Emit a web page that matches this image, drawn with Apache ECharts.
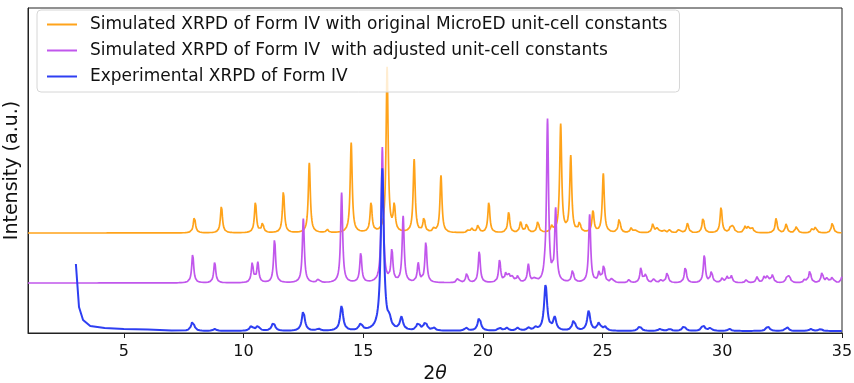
<!DOCTYPE html>
<html>
<head>
<meta charset="utf-8">
<script src="https://cdn.jsdelivr.net/npm/echarts@6/dist/echarts.min.js"></script>
<style>
  html, body { margin: 0; padding: 0; background: #fff; }
  #chart { width: 854px; height: 383px; }
</style>
</head>
<body>
<div id="chart"></div>
<script>
// XRPD patterns of Form IV, stacked (peak lists)
var seriesNames = [
  "Simulated XRPD of Form IV with original MicroED unit-cell constants",
  "Simulated XRPD of Form IV  with adjusted unit-cell constants",
  "Experimental XRPD of Form IV"
];
var tickValues = [5, 10, 15, 20, 25, 30, 35];

// orange: original MicroED cell
var orangePos = [7.95, 9.08, 10.5, 10.8, 11.67, 12.75, 13.5, 14.5, 15.33, 16.0, 16.3, 17.13, 17.54, 17.96, 18.25, 19.4, 19.55, 19.8, 20.25, 21.08, 21.58, 21.83, 22.3, 22.88, 23.25, 23.67, 24.04, 24.6, 25.03, 25.7, 26.2, 26.4, 27.1, 27.3, 27.55, 27.8, 28.2, 28.55, 29.2, 29.95, 30.35, 30.45, 30.95, 31.1, 31.25, 32.25, 32.67, 33.1, 33.75, 33.9, 34.6];
var orangeH = [17, 27, 31, 10, 42, 70, 3, 90, 30, 165, 26, 73, 15, 4, 57, 3, 4, 8, 31, 21, 11, 9, 12, 6, 108, 76, 10, 22, 59, 15, 5, 3, 9, 6, 3, 3, 4, 10, 16, 26, 6, 7, 6, 7, 5, 15, 9, 7, 4, 6, 11];

// purple: adjusted cell
var purplePos = [7.88, 8.8, 10.37, 10.6, 11.3, 12.5, 13.13, 14.1, 14.9, 15.8, 16.2, 16.67, 17.3, 17.62, 18.96, 19.33, 19.85, 20.7, 20.96, 21.1, 21.25, 21.46, 21.9, 22.17, 22.58, 22.7, 23.04, 23.75, 24.46, 24.85, 25.05, 25.4, 26.1, 26.6, 26.8, 27.15, 27.45, 27.7, 28.46, 29.25, 29.55, 30.0, 30.2, 30.38, 31.0, 31.45, 31.75, 31.9, 32.1, 32.7, 32.8, 33.45, 33.66, 34.17, 34.38, 34.6, 35.0];
var purpleH = [29, 21, 20, 20, 44, 64, 4, 90, 30, 135, 32, 66, 19, 41, 5, 10, 32, 23, 9, 7, 6, 7, 18, 5, 5, 162, 72, 13, 68, 10, 18, 5, 3, 15, 9, 4, 3, 11, 17, 28, 12, 5, 6, 7, 3, 6, 6, 8, 8, 6, 7, 4, 13, 11, 5, 7, 6];

// blue: experimental
var bluePos = [7.88, 8.8, 10.33, 10.6, 11.25, 12.5, 13.13, 14.1, 14.9, 15.8, 16.1, 16.6, 17.3, 17.6, 17.95, 19.3, 19.85, 20.7, 21.0, 21.45, 21.9, 22.2, 22.62, 23.0, 23.8, 24.42, 24.85, 25.1, 26.55, 27.4, 27.8, 28.4, 29.2, 29.5, 30.3, 31.9, 32.7, 33.7, 34.1];
var blueH = [10, 2, 5, 5, 9, 20, 2, 25, 7, 162, 8, 13, 8, 9, 3, 3, 14, 3, 3, 3, 3, 3, 46, 13, 11, 20, 8, 4, 5, 2, 2, 5, 6, 3, 2, 5, 4, 2, 2];
// low-angle background of the experimental pattern
var blueBgX = [3.0, 3.13, 3.3, 3.6, 4.2, 5.0, 6.0, 7.0, 7.6];
var blueBgY = [69, 26, 13, 7, 5, 4, 3.4, 2.6, 2];

// baselines of the stacked traces and peak half widths
var offsets = [100, 50, 2];
var halfW = [0.05, 0.05, 0.075];
var colors = ["#ffa31a", "#c157ec", "#2e3ff2"];

function profile(pos, h, off, g, x0) {
  var pts = [];
  for (var i = Math.round(x0 * 100); i <= 3500; i++) {
    var x = i / 100, y = off;
    for (var k = 0; k < pos.length; k++) {
      var d = (x - pos[k]) / g;
      y += h[k] / (1 + d * d);
    }
    pts.push([x, y]);
  }
  return pts;
}

var orangeData = profile(orangePos, orangeH, offsets[0], halfW[0], 1);
var purpleData = profile(purplePos, purpleH, offsets[1], halfW[1], 1);
var blueData = [];
for (var i = 0; i < blueBgX.length - 1; i++) blueData.push([blueBgX[i], blueBgY[i]]);
blueData = blueData.concat(profile(bluePos, blueH, offsets[2], halfW[2], 7.6));

var allData = [orangeData, purpleData, blueData];

var myChart = echarts.init(document.getElementById("chart"));
myChart.setOption({
  animation: false,
  textStyle: { fontFamily: "DejaVu Sans" },
  grid: {
    left: 28, right: 12, top: 8, bottom: 50,
    containLabel: false,
    outerBoundsMode: "none",
    show: true, borderColor: "#222", borderWidth: 1, backgroundColor: "transparent"
  },
  legend: {
    orient: "vertical",
    left: 37, top: 10,
    icon: "rect",
    itemWidth: 30, itemHeight: 2,
    itemGap: 9,
    padding: [6, 12, 7, 10],
    borderColor: "#d6d6d6", borderWidth: 1, borderRadius: 4,
    backgroundColor: "rgba(255,255,255,0.8)",
    textStyle: { fontSize: 17, color: "#111", fontFamily: "DejaVu Sans", padding: [0, 0, 0, 8] },
    data: seriesNames
  },
  xAxis: {
    type: "value",
    min: 1, max: 35,
    name: "2{i|θ}",
    nameLocation: "middle",
    nameGap: 32,
    nameTextStyle: {
      fontSize: 19, color: "#111",
      rich: { i: { fontSize: 19, fontStyle: "italic", color: "#111" } }
    },
    axisLine: { show: true, lineStyle: { color: "#222", width: 1 } },
    axisTick: { show: true, inside: false, length: 5, customValues: tickValues, lineStyle: { color: "#222" } },
    axisLabel: { fontSize: 16, color: "#111", margin: 11, customValues: tickValues },
    splitLine: { show: false }
  },
  yAxis: {
    type: "value",
    min: 0, max: 325,
    name: "Intensity (a.u.)",
    nameLocation: "middle",
    nameRotate: 90,
    nameGap: 6,
    nameTextStyle: { fontSize: 19, color: "#111" },
    axisLine: { show: true, lineStyle: { color: "#222", width: 1 } },
    axisTick: { show: false },
    axisLabel: { show: false },
    splitLine: { show: false }
  },
  series: seriesNames.map(function (n, i) {
    return {
      name: n,
      type: "line",
      data: allData[i],
      showSymbol: false,
      symbol: "none",
      sampling: null,
      clip: true,
      color: colors[i],
      lineStyle: { width: i === 2 ? 2 : 1.7, color: colors[i] }
    };
  })
});
</script>
</body>
</html>
